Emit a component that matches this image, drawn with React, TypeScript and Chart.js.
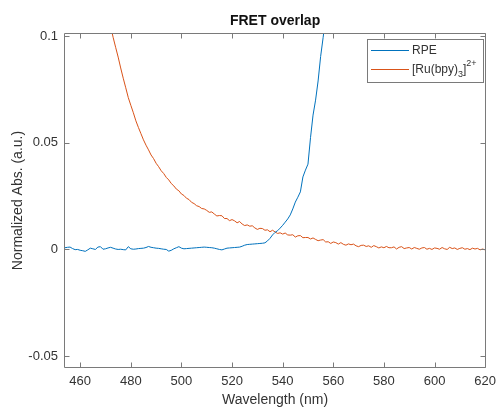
import React, { useEffect, useRef } from "react";
import { Chart, registerables } from "chart.js";

Chart.register(...registerables);

const TITLE = "FRET overlap";
const X_LABEL = "Wavelength (nm)";
const Y_LABEL = "Normalized Abs. (a.u.)";

const X_TICKS = [460, 480, 500, 520, 540, 560, 580, 600, 620];
const Y_TICKS = [-0.05, 0, 0.05, 0.1];
const Y_TICK_LABELS = ["-0.05", "0", "0.05", "0.1"];
const X_MIN = 453.6;
const X_MAX = 620.4;
const Y_MIN = -0.0556;
const Y_MAX = 0.1015;

const RPE_LABEL = "RPE";
const RPE_START_NM = 454;
const RPE_VALUES = [
  0.0008, 0.0010, 0.0011, 0.0004, -0.0001, 0.0000, -0.0004, -0.0006, -0.0009, -0.0002, // 454-463
  0.0006, 0.0003, 0.0000, 0.0011, 0.0013, 0.0001, 0.0003, 0.0007, 0.0010, 0.0006, // 464-473
  0.0002, 0.0000, 0.0001, -0.0001, -0.0002, 0.0013, 0.0003, 0.0001, 0.0002, 0.0004, // 474-483
  0.0005, 0.0006, 0.0009, 0.0014, 0.0010, 0.0008, 0.0006, 0.0005, 0.0003, 0.0001, // 484-493
  0.0000, -0.0008, -0.0004, 0.0003, 0.0008, 0.0013, 0.0006, 0.0003, 0.0004, 0.0005, // 494-503
  0.0006, 0.0007, 0.0008, 0.0009, 0.0010, 0.0011, 0.0010, 0.0009, 0.0008, 0.0006, // 504-513
  0.0003, 0.0000, -0.0002, 0.0002, 0.0006, 0.0007, 0.0008, 0.0009, 0.0010, 0.0011, // 514-523
  0.0015, 0.0020, 0.0023, 0.0024, 0.0025, 0.0026, 0.0027, 0.0028, 0.0029, 0.0031, // 524-533
  0.0040, 0.0052, 0.0068, 0.0080, 0.0088, 0.0100, 0.0113, 0.0128, 0.0143, 0.0162, // 534-543
  0.0190, 0.0222, 0.0245, 0.0270, 0.0340, 0.0372, 0.0400, 0.0524, 0.0630, 0.0700, // 544-553
  0.0790, 0.0905, 0.0995, 0.1090, 0.1200, // 554-558
];

const RU_LABEL = "[Ru(bpy)3]2+";
const RU_LABEL_PARTS = [
  { text: "[Ru(bpy)", shift: 0 },
  { text: "3", shift: -1 },
  { text: "]", shift: 0 },
  { text: "2+", shift: 1 },
];
const RU_START_NM = 470;
const RU_VALUES = [
  0.1180, 0.1110, 0.1048, 0.0995, 0.0948, 0.0902, 0.0851, 0.0803, 0.0758, 0.0712, // 470-479
  0.0676, 0.0641, 0.0603, 0.0572, 0.0543, 0.0514, 0.0489, 0.0467, 0.0443, 0.0426, // 480-489
  0.0404, 0.0388, 0.0369, 0.0356, 0.0338, 0.0326, 0.0309, 0.0298, 0.0283, 0.0275, // 490-499
  0.0260, 0.0253, 0.0240, 0.0234, 0.0221, 0.0215, 0.0205, 0.0201, 0.0192, 0.0190, // 500-509
  0.0183, 0.0174, 0.0176, 0.0166, 0.0157, 0.0159, 0.0158, 0.0145, 0.0145, 0.0135, // 510-519
  0.0140, 0.0134, 0.0125, 0.0131, 0.0119, 0.0112, 0.0115, 0.0109, 0.0111, 0.0101, // 520-529
  0.0094, 0.0099, 0.0098, 0.0090, 0.0092, 0.0083, 0.0090, 0.0082, 0.0075, 0.0078, // 530-539
  0.0072, 0.0077, 0.0068, 0.0067, 0.0069, 0.0058, 0.0064, 0.0065, 0.0055, 0.0056, // 540-549
  0.0056, 0.0049, 0.0054, 0.0047, 0.0041, 0.0044, 0.0046, 0.0035, 0.0036, 0.0028, // 550-559
  0.0035, 0.0032, 0.0025, 0.0032, 0.0024, 0.0020, 0.0026, 0.0022, 0.0025, 0.0017, // 560-569
  0.0013, 0.0019, 0.0020, 0.0014, 0.0017, 0.0010, 0.0018, 0.0013, 0.0007, 0.0012, // 570-579
  0.0008, 0.0014, 0.0008, 0.0008, 0.0012, 0.0002, 0.0010, 0.0013, 0.0004, 0.0007, // 580-589
  0.0009, 0.0002, 0.0009, 0.0005, 0.0001, 0.0007, 0.0009, 0.0001, 0.0005, 0.0000, // 590-599
  0.0007, 0.0005, 0.0001, 0.0009, 0.0003, 0.0000, 0.0010, 0.0004, 0.0007, 0.0000, // 600-609
  0.0005, 0.0008, 0.0001, 0.0004, -0.0001, 0.0006, 0.0002, 0.0005, -0.0002, 0.0002, // 610-619
  -0.0002, // 620
];

const BLUE = "#0072BD";
const ORANGE = "#D95319";
const AXIS_COLOR = "#7a7a7a";
const TEXT_COLOR = "#333333";
const FONT_FAMILY = '"Liberation Sans", Arial, Helvetica, sans-serif';

const toPoints = (start: number, values: number[]) =>
  values.map((v, i) => ({ x: start + i, y: v }));

const framePlugin = {
  id: "matlabFrame",
  afterDatasetsDraw(chart: any) {
    const { ctx, chartArea, scales } = chart;
    const { left, right, top, bottom } = chartArea;
    const xs = scales.x;
    const ys = scales.y;
    const L = Math.round(left) + 0.5;
    const R = Math.round(right) - 0.5;
    const T = Math.round(top) + 0.5;
    const B = Math.round(bottom) - 0.5;
    ctx.save();
    ctx.strokeStyle = AXIS_COLOR;
    ctx.lineWidth = 1;
    ctx.beginPath();
    ctx.moveTo(L, T);
    ctx.lineTo(R, T);
    ctx.lineTo(R, B);
    ctx.lineTo(L, B);
    ctx.closePath();
    const tl = 5;
    X_TICKS.forEach((v) => {
      const px = Math.round(xs.getPixelForValue(v)) + 0.5;
      ctx.moveTo(px, B);
      ctx.lineTo(px, B - tl);
      ctx.moveTo(px, T);
      ctx.lineTo(px, T + tl);
    });
    Y_TICKS.forEach((v) => {
      const py = Math.round(ys.getPixelForValue(v)) + 0.5;
      ctx.moveTo(L, py);
      ctx.lineTo(L + tl, py);
      ctx.moveTo(R, py);
      ctx.lineTo(R - tl, py);
    });
    ctx.stroke();

    // title
    ctx.fillStyle = "#111111";
    ctx.font = `bold 14px ${FONT_FAMILY}`;
    ctx.textAlign = "center";
    ctx.textBaseline = "alphabetic";
    ctx.fillText(TITLE, (left + right) / 2, 25);

    // legend
    const bx = 367.5, by = 39.5, bw = 116, bh = 43;
    ctx.fillStyle = "#ffffff";
    ctx.fillRect(bx, by, bw, bh);
    ctx.strokeStyle = AXIS_COLOR;
    ctx.strokeRect(bx, by, bw, bh);
    const ds = chart.data.datasets;
    const rows = [50, 69];
    ctx.textAlign = "left";
    ctx.textBaseline = "middle";
    ds.forEach((d: any, i: number) => {
      const yy = rows[i] + 0.5;
      ctx.strokeStyle = d.borderColor;
      ctx.lineWidth = 1;
      ctx.beginPath();
      ctx.moveTo(371, yy);
      ctx.lineTo(409, yy);
      ctx.stroke();
      ctx.fillStyle = TEXT_COLOR;
      let tx = 412;
      if (i === 0) {
        ctx.font = `12px ${FONT_FAMILY}`;
        ctx.fillText(d.label, tx, rows[i] + 1);
      } else {
        RU_LABEL_PARTS.forEach((p) => {
          const size = p.shift === 0 ? 12 : 9;
          ctx.font = `${size}px ${FONT_FAMILY}`;
          const dy = p.shift === 0 ? 0 : p.shift < 0 ? 5 : -6;
          ctx.fillText(p.text, tx, rows[i] + 1 + dy);
          tx += ctx.measureText(p.text).width;
        });
      }
    });
    ctx.restore();
  },
};

export default function App() {
  const canvasRef = useRef<HTMLCanvasElement | null>(null);

  useEffect(() => {
    if (!canvasRef.current) return;
    const chart = new Chart(canvasRef.current, {
      type: "line",
      data: {
        datasets: [
          {
            label: RPE_LABEL,
            data: toPoints(RPE_START_NM, RPE_VALUES),
            borderColor: BLUE,
            backgroundColor: BLUE,
            borderWidth: 1,
            pointRadius: 0,
            tension: 0,
          },
          {
            label: RU_LABEL,
            data: toPoints(RU_START_NM, RU_VALUES),
            borderColor: ORANGE,
            backgroundColor: ORANGE,
            borderWidth: 1,
            pointRadius: 0,
            tension: 0,
          },
        ],
      },
      options: {
        animation: false,
        responsive: false,
        maintainAspectRatio: false,
        parsing: false as any,
        layout: { padding: { top: 33, right: 10, left: 0, bottom: 0 } },
        plugins: {
          legend: { display: false },
          title: { display: false },
          tooltip: { enabled: false },
        },
        scales: {
          x: {
            type: "linear",
            min: X_MIN,
            max: X_MAX,
            grid: { display: false, drawTicks: false },
            border: { display: false },
            ticks: {
              padding: 6,
              color: TEXT_COLOR,
              font: { family: FONT_FAMILY, size: 13 },
              maxRotation: 0,
              autoSkip: false,
              callback: (v: any) => String(v),
            },
            afterBuildTicks: (s: any) => {
              s.ticks = X_TICKS.map((v) => ({ value: v }));
            },
            afterFit: (s: any) => {
              s.height = 41;
            },
            title: {
              display: true,
              text: X_LABEL,
              color: TEXT_COLOR,
              font: { family: FONT_FAMILY, size: 14 },
              padding: { top: 0, bottom: 0 },
            },
          },
          y: {
            type: "linear",
            min: Y_MIN,
            max: Y_MAX,
            grid: { display: false, drawTicks: false },
            border: { display: false },
            ticks: {
              padding: 6,
              color: TEXT_COLOR,
              font: { family: FONT_FAMILY, size: 13 },
              autoSkip: false,
              callback: (v: any) => {
                const idx = Y_TICKS.findIndex((t) => Math.abs(t - v) < 1e-9);
                return idx >= 0 ? Y_TICK_LABELS[idx] : "";
              },
            },
            afterBuildTicks: (s: any) => {
              s.ticks = Y_TICKS.map((v) => ({ value: v }));
            },
            afterFit: (s: any) => {
              s.width = 64;
            },
            title: {
              display: true,
              text: Y_LABEL,
              color: TEXT_COLOR,
              font: { family: FONT_FAMILY, size: 14 },
              padding: { top: 10, bottom: 0 },
            },
          },
        },
      },
      plugins: [framePlugin],
    });
    return () => chart.destroy();
  }, []);

  return (
    <div style={{ position: "fixed", left: 0, top: 0, width: 502, height: 409, background: "#fff" }}>
      <canvas ref={canvasRef} width={502} height={409} style={{ display: "block" }} />
    </div>
  );
}
